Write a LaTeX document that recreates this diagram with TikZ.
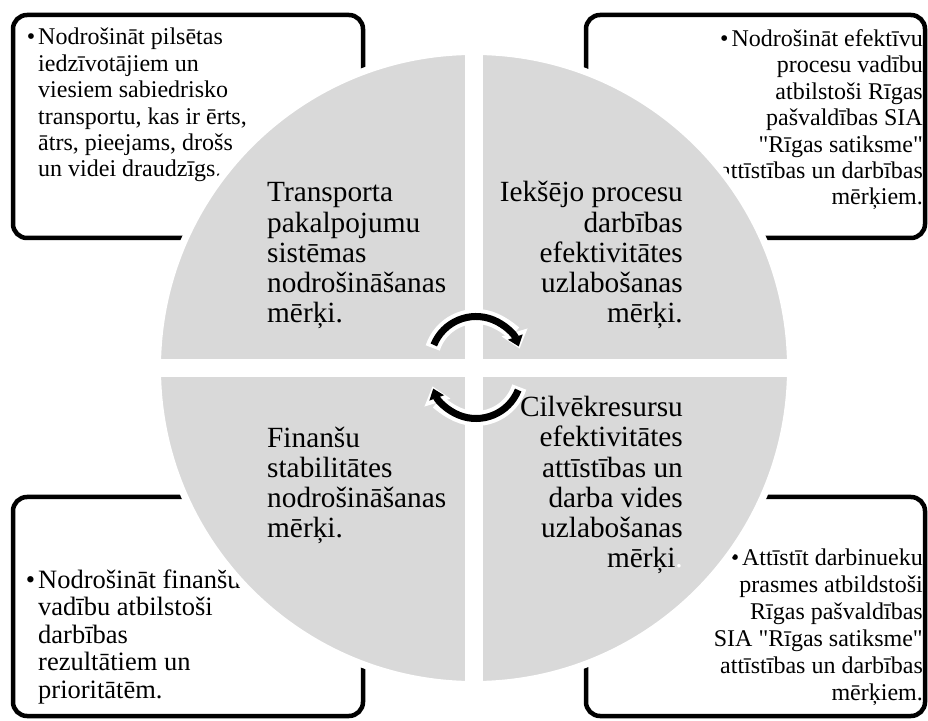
\documentclass[tikz,border=0pt]{standalone}
\usepackage{fontspec}
\setmainfont{Liberation Serif}
\usetikzlibrary{arrows.meta,positioning}
\definecolor{qGray}{RGB}{217,217,217}
\tikzstyle{gBox}=[draw=black, line width=4.5pt, rounded corners=14pt, inner sep=0pt]
\tikzstyle{gTxt}=[inner sep=0pt, font=\fontsize{24}{26.4}\selectfont]
\tikzstyle{qTxt}=[inner sep=0pt, font=\fontsize{29.3}{30.3}\selectfont]
\tikzstyle{aWhite}=[white, line width=15pt, -{Triangle[width=26pt,length=17pt]}]
\tikzstyle{aBlack}=[black, line width=7pt, -{Triangle[width=15pt,length=10pt]}]
\newcommand{\qq}{\textquotedbl}

\begin{document}
\begin{tikzpicture}[x=1pt,y=1pt]
                \useasboundingbox (0,0) rectangle (928,720);
                % corner boxes
                \node[gBox, minimum width=350pt, minimum height=223pt] (bTL) at (188,593.5) {};
                \node[gBox, minimum width=339pt, minimum height=223pt] (bTR) at (755.5,593.5) {};
                \node[gBox, minimum width=350pt, minimum height=219pt] (bBL) at (188,113.5) {};
                \node[gBox, minimum width=339pt, minimum height=219pt] (bBR) at (755.5,113.5) {};
                % box texts (base = last line)
                \node[gTxt, anchor=base west, align=left] (tTL) at (38,543)
                    {\llap{\textbullet\kern3pt}Nodrošināt pilsētas\\ iedzīvotājiem un\\ viesiem sabiedrisko\\ transportu, kas ir ērts,\\ ātrs, pieejams, drošs\\ un videi draudzīgs.};
                \node[gTxt, anchor=base east, align=right] (tTR) at (923,515)
                    {\textbullet\kern3pt Nodrošināt efektīvu\\ procesu vadību\\ atbilstoši Rīgas\\ pašvaldības SIA\\ \qq Rīgas satiksme\qq\\ attīstības un darbības\\ mērķiem.};
                \node[gTxt, anchor=base west, align=left, font=\fontsize{26.5}{27.5}\selectfont] (tBL) at (38,22)
                    {\llap{\textbullet\kern3pt}Nodrošināt finanšu\\ vadību atbilstoši\\ darbības\\ rezultātiem un\\ prioritātēm.};
                \node[gTxt, anchor=base east, align=right, font=\fontsize{24}{27}\selectfont] (tBR) at (923,20)
                    {\textbullet\kern3pt Attīstīt darbinueku\\ prasmes atbildstoši\\ Rīgas pašvaldības\\ SIA \qq Rīgas satiksme\qq\\ attīstības un darbības\\ mērķiem.};
                % circle and quadrants
                \coordinate (cC) at (474,352);
                \fill[qGray] (cC) circle[radius=316.5];
                \draw[white, line width=7pt] (cC) circle[radius=316.5];
                \fill[white] (465,28) rectangle (483,676);
                \fill[white] (150,343) rectangle (798,361);
                % quadrant texts
                \node[qTxt, anchor=base west, align=left] (qTL) at (267,397)
                    {Transporta\\ pakalpojumu\\ sistēmas\\ nodrošināšanas\\ mērķi.};
                \node[qTxt, anchor=base east, align=right] (qTR) at (683,397)
                    {Iekšējo procesu\\ darbības\\ efektivitātes\\ uzlabošanas\\ mērķi.};
                \node[qTxt, anchor=base west, align=left] (qBL) at (267,182)
                    {Finanšu\\ stabilitātes\\ nodrošināšanas\\ mērķi.};
                \node[qTxt, anchor=base east, align=right] (qBR) at (683,152)
                    {Cilvēkresursu\\ efektivitātes\\ attīstības un\\ darba vides\\ uzlabošanas\\ mērķi{\color{white}.}};
                % cycle arrows
                \coordinate (cT) at (476,358);
                \coordinate (cB) at (476,347);
                \draw[aWhite] ([shift={(162:45.5)}]cT) arc[start angle=162, end angle=17, radius=45.5];
                \draw[aBlack] ([shift={(158:45.5)}]cT) arc[start angle=158, end angle=20, radius=45.5];
                \draw[aWhite] ([shift={(-18:45.5)}]cB) arc[start angle=-18, end angle=-163, radius=45.5];
                \draw[aBlack] ([shift={(-22:45.5)}]cB) arc[start angle=-22, end angle=-160, radius=45.5];
\end{tikzpicture}
\end{document}
